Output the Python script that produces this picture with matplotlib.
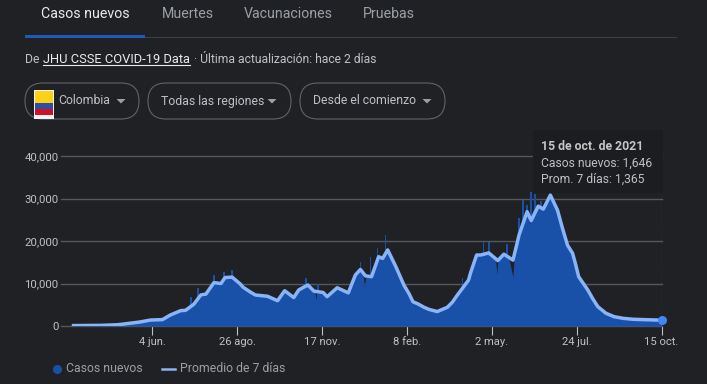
import matplotlib
matplotlib.use("Agg")
import matplotlib.pyplot as plt
from matplotlib.patches import FancyBboxPatch, Rectangle, Polygon

plt.rcParams['font.family'] = ['Roboto', 'DejaVu Sans']

W, H = 707, 384
BG = "#202124"

tick_days = [78, 162, 246, 330, 414, 498, 582]
tick_labels = ["4 jun.", "26 ago.", "17 nov.", "8 feb.", "2 may.", "24 jul.", "15 oct."]
y_ticks = [0, 10000, 20000, 30000, 40000]
y_labels = ["0", "10,000", "20,000", "30,000", "40,000"]

# promedio de 7 dias
avg_days = [0, 27, 44, 66, 76, 88, 96, 106, 111, 119, 126, 131, 139, 146, 150, 157, 165, 168, 175, 180, 186, 192, 202,
            209, 218, 223, 232, 238, 247, 251, 261, 272, 279, 284, 289, 295, 302, 306, 311, 319, 327, 332, 336,
            341, 347, 352, 360, 370, 375, 380, 386, 391, 393, 399, 403, 411, 420, 426, 435, 441, 449, 453, 460, 465,
            472, 479, 484, 489, 494, 497, 500, 509, 514, 519, 527, 535, 544, 554, 582]
avg_vals = [100, 150, 300, 950, 1400, 1500, 2600, 3600, 3700, 5100, 7300, 7500, 10200, 10000, 11400, 11500, 9900,
            9100, 8000, 7300, 7150, 7000, 5950, 8300, 6700, 8500, 9650, 8200, 7900, 6900, 9000, 7800, 12000, 13300, 11800,
            11600, 16300, 15900, 17900, 14000, 9650, 7650, 5700, 5200, 4400, 3900, 3400, 4400, 5600, 7300, 9200, 10800,
            12500, 16700, 16700, 17200, 15400, 16900, 15500, 21400, 26900, 24800, 28200, 27500, 30800, 27300, 23000,
            19000, 17100, 14500, 11600, 8500, 6400, 4550, 3000, 2200, 1800, 1580, 1365]

# casos nuevos (contorno del area)
case_days = [0, 27, 44, 66, 76, 88, 96, 106, 111, 115, 117, 119, 124, 126, 131, 136, 138,
             140, 146, 148, 150, 155, 156, 158, 168, 180, 192, 202, 209, 218, 223, 229, 231,
             238, 239, 240, 241, 243, 244, 247, 251, 261, 272, 279, 283, 285, 287, 288, 289, 293,
             295, 300, 302, 306, 308, 310, 311, 319, 327, 332, 336, 341, 347, 352, 360, 370, 375, 380, 384,
             386, 391, 396, 399, 405, 407, 410, 412, 418, 419, 420, 426, 428, 430, 435, 436,
             440, 442, 444, 446, 450, 451, 452, 453, 456, 458, 460, 465, 472, 479, 484, 489, 494,
             497, 500, 509, 514, 519, 527, 535, 544, 554, 581, 582]
case_vals = [60, 130, 260, 850, 1300, 1400, 2400, 3400, 3500, 4500, 4800, 4900, 7000, 7000,
             7200, 9500, 10000, 10000, 9800, 10800, 11300, 11200, 11800, 11400, 9000,
             7200, 7100, 5800, 8100, 6600, 8300, 9500, 9600, 8300, 8000, 6100, 8000, 8000, 7800,
             7800, 6800, 8900, 7700, 11800, 13000, 13000, 11500, 9000, 11500, 11500, 11500, 15500,
             16000, 15800, 16500, 17800, 17700, 13800, 9500, 7500, 5600, 5000, 4300, 3800, 3300, 4300, 5500, 7200, 9000,
             9000, 10700, 16000, 16700, 17000, 17000, 17000, 17000, 15500, 12000, 15400,
             16800, 17000, 16800, 11500, 15500, 21000, 21500, 26000, 26000, 26500, 24500,
             22500, 26000, 28000, 28000, 28000, 27300, 30800, 27000, 22800, 18800, 17000, 14300, 11300, 8300, 6300, 4400,
             2900, 2100, 1700, 1500, 1300, 1646]

# picos diarios que sobresalen del promedio
spike_days = [116, 123, 139, 149, 157, 230, 242, 284, 294, 301, 309, 385, 406, 411, 429, 441, 445, 449, 453, 457, 463]
spike_vals = [6800, 8900, 12000, 12700, 13200, 11300, 10000, 15000, 16300, 18300, 21400, 11300, 19800, 19800, 19300,
              25400, 29600, 28500, 31600, 31000, 29500]

fig = plt.figure(figsize=(W / 100, H / 100), dpi=100, facecolor=BG)

# area del grafico en pixeles
left, right, top, bottom = 60.5, 661.5, 150, 326
ax = fig.add_axes([left / W, 1 - bottom / H, (right - left) / W, (bottom - top) / H], facecolor=BG)
ax.set_xlim((left - 73.5) * 0.99, 582)
ax.set_ylim(0, (bottom - top) / 42.5 * 10000)

ax.fill_between(case_days, case_vals, 0, color="#1a51a8", lw=0, zorder=2)
ax.bar(spike_days, spike_vals, width=1.6, color="#1a51a8", lw=0, zorder=2)
ax.plot(avg_days, avg_vals, color="#8ab4f8", lw=2.5, solid_joinstyle="round", zorder=3)
ax.plot([avg_days[-1]], [avg_vals[-1]], "o", color="#4285f4", ms=6.5, mew=0, clip_on=False, zorder=4)
ax.axvline(582, color="#c4c7c5", lw=0.8, ls=(0, (1, 2)), zorder=1.5)

for s in ax.spines.values():
    s.set_visible(False)
ax.set_xticks(tick_days, tick_labels)
ax.set_yticks(y_ticks, y_labels)
ax.tick_params(axis="x", length=6.5, width=0.8, color="#bdc1c6", labelcolor="#bdc1c6", labelsize=8.1, pad=1.5)
ax.tick_params(axis="y", length=0, labelcolor="#bdc1c6", labelsize=8.2, pad=1.5)
ax.grid(axis="y", color="#55585c", lw=1, zorder=1)
for g in ax.get_ygridlines():
    g.set_clip_on(False)
ax.set_axisbelow(True)

# capa de interfaz, en coordenadas de pixel
ui = fig.add_axes([0, 0, 1, 1], facecolor="none", zorder=5)
ui.set_xlim(0, W)
ui.set_ylim(H, 0)
ui.axis("off")

tabs = [("Casos nuevos", 41, "#e8eaed"), ("Muertes", 162, "#9aa0a6"),
        ("Vacunaciones", 244, "#9aa0a6"), ("Pruebas", 363, "#9aa0a6")]
for name, x, c in tabs:
    ui.text(x, 14, name, color=c, fontsize=10.2, va="center")
ui.add_patch(Rectangle((25, 37), 652, 1, color="#3c4043", lw=0))
ui.add_patch(Rectangle((25, 35), 120, 2.5, color="#1f5bb5", lw=0))

ui.text(25, 59.5, "De", color="#bdc1c6", fontsize=8.8, va="center")
ui.text(43, 59.5, "JHU CSSE COVID-19 Data", color="#e8eaed", fontsize=9.25, va="center")
ui.plot([43, 190], [64.5, 64.5], color="#e8eaed", lw=0.8)
ui.text(194, 59.5, "· Última actualización: hace 2 días", color="#bdc1c6", fontsize=8.7, va="center")

pills = [(25, 139, "Colombia", 58, 121), (148, 291, "Todas las regiones", 161, 272),
         (300, 445, "Desde el comienzo", 313, 427)]
for x0, x1, label, tx, ax_x in pills:
    ui.add_patch(FancyBboxPatch((x0 + 18, 83 + 18), x1 - x0 - 36, 0.01,
                                boxstyle="round,pad=18,rounding_size=18",
                                fc="none", ec="#5f6368", lw=0.8))
    ui.text(tx, 101, label, color="#bdc1c6", fontsize=8.85, va="center")
    ui.add_patch(Polygon([(ax_x - 4.5, 99), (ax_x + 4.5, 99), (ax_x, 103.5)], color="#9aa0a6", lw=0))

# bandera
ui.add_patch(Rectangle((34, 90), 20, 29, color="#f1f3f4", lw=0))
ui.add_patch(Rectangle((35, 91), 18, 12, color="#fcd116", lw=0))
ui.add_patch(Rectangle((35, 103), 18, 6, color="#2c4fa3", lw=0))
ui.add_patch(Rectangle((35, 109), 18, 6, color="#ce1126", lw=0))

# tooltip
ui.add_patch(Rectangle((533, 130), 130, 63, color="#1c1d20", lw=0))
ui.text(541, 146, "15 de oct. de 2021", color="#c4c7c5", fontsize=8.8, fontweight="bold", va="center")
ui.text(541, 163.5, "Casos nuevos: 1,646", color="#bdc1c6", fontsize=8.7, va="center")
ui.text(541, 179.5, "Prom. 7 días: 1,365", color="#bdc1c6", fontsize=8.7, va="center")

# leyenda
ui.plot([57], [369], "o", color="#1a51a8", ms=6.5, mew=0)
ui.text(66, 369, "Casos nuevos", color="#9aa0a6", fontsize=8.8, va="center")
ui.plot([162, 175], [369, 369], color="#8ab4f8", lw=1.8)
ui.text(180, 369, "Promedio de 7 días", color="#9aa0a6", fontsize=8.8, va="center")

fig.savefig("out.png", dpi=100, facecolor=BG)
